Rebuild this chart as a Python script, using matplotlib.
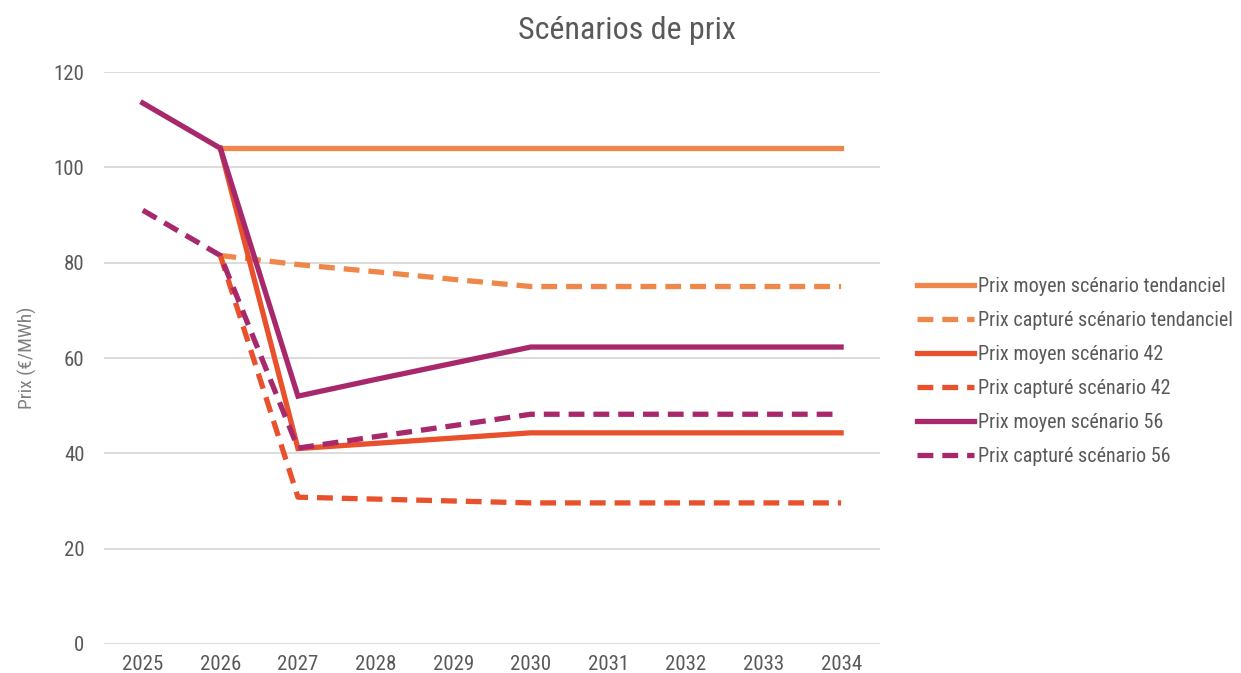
import matplotlib
matplotlib.use("Agg")
import matplotlib.pyplot as plt
import numpy as np
from matplotlib import font_manager

avail = {f.name for f in font_manager.fontManager.ttflist}
fams = [f for f in ['Roboto Condensed', 'Liberation Sans Narrow', 'Liberation Sans'] if f in avail]
plt.rcParams['font.family'] = fams + ['DejaVu Sans']
narrow = fams and fams[0] != 'Liberation Sans'

years = ["2025", "2026", "2027", "2028", "2029", "2030", "2031", "2032", "2033", "2034"]
nan = np.nan
moyen_tendanciel = [nan, 104, 104, 104, 104, 104, 104, 104, 104, 104]
capture_tendanciel = [nan, 81.5, 79.6, 78.1, 76.5, 75.0, 75.0, 75.0, 75.0, 75.0]
moyen_42 = [nan, 104, 41.0, 42.1, 43.2, 44.3, 44.3, 44.3, 44.3, 44.3]
capture_42 = [nan, 81.5, 30.8, 30.4, 30.0, 29.6, 29.6, 29.6, 29.6, 29.6]
moyen_56 = [113.5, 104, 52.0, 55.5, 58.9, 62.3, 62.3, 62.3, 62.3, 62.3]
capture_56 = [91.0, 81.5, 41.1, 43.5, 45.8, 48.2, 48.2, 48.2, 48.2, 48.2]

labels = ["Prix moyen scénario tendanciel", "Prix capturé scénario tendanciel",
          "Prix moyen scénario 42", "Prix capturé scénario 42",
          "Prix moyen scénario 56", "Prix capturé scénario 56"]
series = [moyen_tendanciel, capture_tendanciel, moyen_42, capture_42, moyen_56, capture_56]
colors = ["#F0874A", "#F0874A", "#E9512C", "#E9512C", "#A8286C", "#A8286C"]
dashed = [False, True, False, True, False, True]

fs = 14.5 if narrow else 12
fig = plt.figure(figsize=(12.41, 6.73), dpi=100)
ax = fig.add_axes([0.0838, 0.0431, 0.709 - 0.0838, 0.893 - 0.0431])
x = np.arange(len(years))
lw = 3.8
for s, lab, c, d in zip(series, labels, colors, dashed):
    if d:
        ax.plot(x, s, color=c, lw=lw, label=lab, linestyle=(0, (3.0, 1.7)))
    else:
        ax.plot(x, s, color=c, lw=lw, label=lab, solid_joinstyle='miter')

ax.set_xlim(-0.5, len(years) - 0.5)
ax.set_ylim(0, 120)
ax.set_yticks(np.arange(0, 121, 20))
ax.set_xticks(x)
ax.set_xticklabels(years)
ax.grid(axis='y', color='#D9D9D9', lw=1.3)
ax.set_axisbelow(True)
for sp in ax.spines.values():
    sp.set_visible(False)
ax.tick_params(axis='both', length=0, colors='#595959', labelsize=15)
ax.tick_params(axis='y', pad=14)
ax.tick_params(axis='x', pad=8)
ax.set_ylabel("Prix (€/MWh)", color='#7F7F7F', fontsize=14, labelpad=12)

fig.text(0.505, 0.955, "Scénarios de prix", ha='center', va='center', fontsize=23 if narrow else 18,
         color='#595959')

leg = fig.legend(loc='center left', bbox_to_anchor=(0.724, 0.448), frameon=False,
                 fontsize=fs, handlelength=3.2 * 13 / fs, labelspacing=0.84 * 13 / fs,
                 handletextpad=0.2)
for t in leg.get_texts():
    t.set_color('#595959')

fig.savefig("out.png", dpi=100)
